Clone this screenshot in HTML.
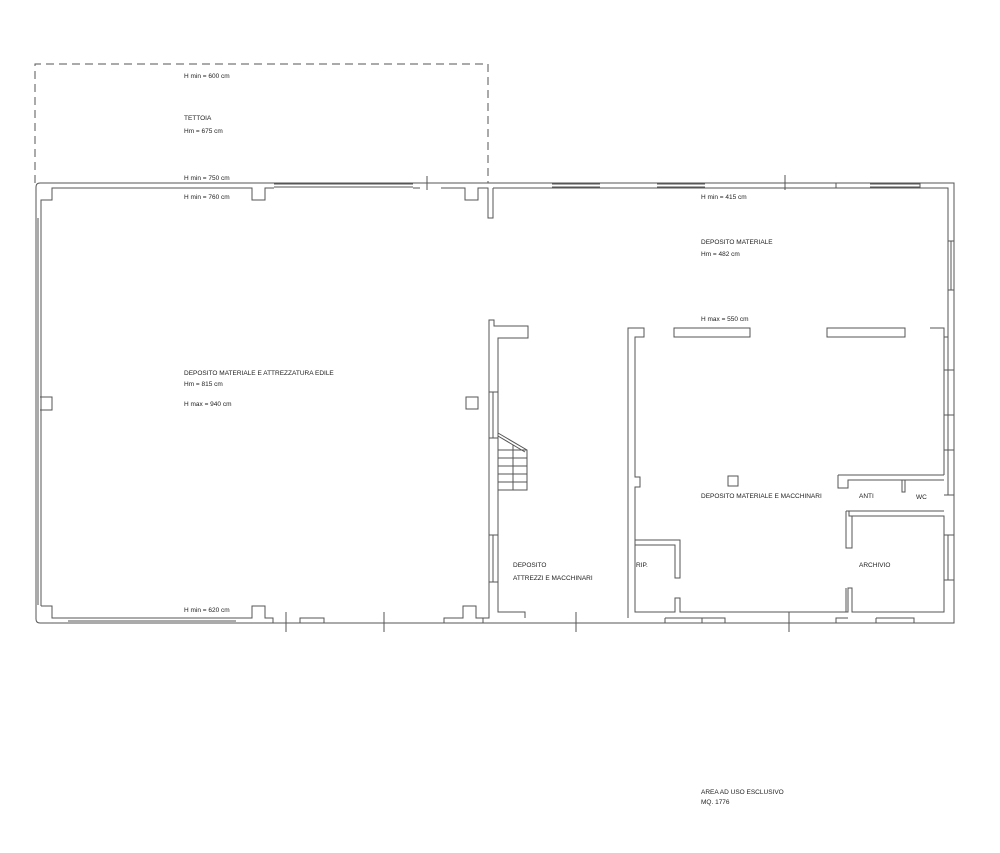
<!DOCTYPE html>
<html><head><meta charset="utf-8"><style>
html,body{margin:0;padding:0;background:#fff;}
svg{display:block}
text{font-family:"Liberation Sans",sans-serif;font-size:6.5px;fill:#222}
</style></head><body>
<svg width="1000" height="853" viewBox="0 0 1000 853" xmlns="http://www.w3.org/2000/svg">
<g fill="none" stroke="#555" stroke-width="1">
<!-- tettoia dashed -->
<path d="M35 183 V64 H488 V183" stroke-dasharray="8,5"/>
<!-- outer boundary -->
<path d="M40 183 H954 V623 H40 Q36 623 36 619 V187 Q36 183 40 183 Z"/>
<!-- left building inner -->
<path d="M41 606 V200 H52 V188 H252 V200 H265 V188 H274"/>
<path d="M274 184 H413 M274 187 H413" />
<path d="M413 188 H420 M441 188 H465 V200 H478 V188 H488 V218 H493 V188"/>
<path d="M427 176 V190"/>
<path d="M38 218 V605" />
<path d="M40 397 H52 V410 H40"/>
<rect x="466" y="397" width="12" height="12"/>
<!-- left bottom inner -->
<path d="M41 606 H52 V618 H68"/>
<path d="M68 618 H236 M68 621 H236"/>
<path d="M236 618 H252 V606 H265 V618 H273 V623"/>
<path d="M300 623 V618 H324 V623"/>
<path d="M444 623 V618 H463 V606 H476 V618 H483"/>
<path d="M286 612 V632 M384 612 V632 M576 612 V632 M789 612 V632"/>
<!-- right top inner -->
<path d="M493 188 H948 V337"/>
<path d="M552 184 H600 M552 187 H600 M657 184 H705 M657 187 H705 M836 188 V183 M870 184 H920 M870 187 H920 M920 183 V188"/>
<path d="M785 175 V190"/>
<path d="M951 241 V290 M948 241 H954 M948 290 H954"/>
<!-- middle partition -->
<path d="M483 623 V618 H489 V320 H494 V326 H528 V338 H498 V612 H525 V618"/>
<path d="M493 392 V438 M489 392 H498 M489 438 H498 M493 535 V582 M489 535 H498 M489 582 H498"/>
<!-- stair -->
<path d="M498 433 L527 450 V490 H498 M498 436 L525 452 M498 450 H527 M498 458 H527 M498 466 H527 M498 474 H527 M498 482 H527 M513 445 V490"/>
<!-- second partition -->
<path d="M628 618 V328 H644 V337 H635 V477 H640 V487 H635 V612 H675 V598 H680 V612 H848 V588 H852 V612 H944 V516 H849 V511 H944"/>
<path d="M635 540 H680 V578 H675 V545 H635"/>
<path d="M665 618 H702 V623 M665 618 V623 M876 618 H914 V623 M876 618 V623 M702 618 H725 V623 M836 623 V618 H848"/>
<rect x="674" y="328" width="76" height="9"/>
<rect x="827" y="328" width="78" height="9"/>
<path d="M930 328 H944 V337 H948 V475 M944 337 V475"/>
<rect x="728" y="476" width="10" height="10"/>
<!-- right windows lower -->
<path d="M948 370 V415 M944 370 H954 M944 415 H954 M948 450 V495 M944 450 H954 M944 495 H954 M948 535 V580 M944 535 H954 M944 580 H954"/>
<!-- anti / wc -->
<path d="M838 475 H944 M838 475 V488 H848 V480 H944"/>
<path d="M902 480 V492 H905 V480"/>
<path d="M846 511 V548 H852 V516 M846 511 H849"/>
<path d="M846 588 V612"/>
<path d="M944 516 V612"/>
</g>
<text x="184" y="78">H min = 600 cm</text>
<text x="184" y="120">TETTOIA</text>
<text x="184" y="133">Hm = 675 cm</text>
<text x="184" y="180">H min = 750 cm</text>
<text x="184" y="199">H min = 760 cm</text>
<text x="184" y="375">DEPOSITO MATERIALE E ATTREZZATURA EDILE</text>
<text x="184" y="386">Hm = 815 cm</text>
<text x="184" y="406">H max = 940 cm</text>
<text x="184" y="612">H min = 620 cm</text>
<text x="701" y="199">H min = 415 cm</text>
<text x="701" y="244">DEPOSITO MATERIALE</text>
<text x="701" y="256">Hm = 482 cm</text>
<text x="701" y="321">H max = 550 cm</text>
<text x="701" y="498">DEPOSITO MATERIALE E MACCHINARI</text>
<text x="859" y="498">ANTI</text>
<text x="916" y="499">WC</text>
<text x="859" y="567">ARCHIVIO</text>
<text x="636" y="567">RIP.</text>
<text x="513" y="567">DEPOSITO</text>
<text x="513" y="580">ATTREZZI E MACCHINARI</text>
<text x="701" y="794">AREA AD USO ESCLUSIVO</text>
<text x="701" y="804">MQ. 1776</text>
</svg>
</body></html>
